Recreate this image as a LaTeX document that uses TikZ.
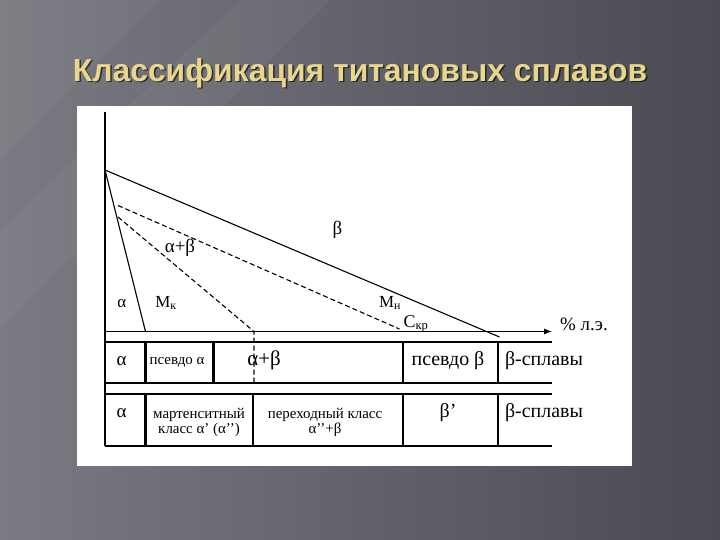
\documentclass[tikz,border=0pt]{standalone}
\usepackage{fontspec}
\setmainfont{Liberation Serif}
\newfontfamily\titlefont{Liberation Sans}
\usetikzlibrary{arrows.meta}
\definecolor{bgL}{RGB}{122,122,130}
\definecolor{bgR}{RGB}{74,74,82}
\definecolor{gold}{RGB}{232,214,140}
\tikzset{
  lbl/.style={inner sep=0pt, font=\fontsize{#1}{#1}\selectfont},
  lbl/.default=18,
  thinline/.style={line width=1.1bp, black},
  dashline/.style={line width=1.1bp, black, dash pattern=on 5bp off 3bp},
  divider/.style={line width=2.6bp, black},
  rowline/.style={line width=1.4bp, black},
  twoline/.style={inner sep=0pt, align=center, font=\fontsize{15}{16}\selectfont}
}
\begin{document}
\begin{tikzpicture}[x=1bp,y=-1bp]
\useasboundingbox (0,0) rectangle (720,540);
% background
\shade[left color=bgL, right color=bgR] (0,0) rectangle (720,540);
\fill[white, opacity=0.035] (0,230) -- (0,330) -- (330,0) -- (240,0) -- cycle;
\fill[white, opacity=0.03] (0,0) -- (0,160) -- (160,0) -- cycle;
% title
\node[text=black, opacity=0.6, font=\titlefont\bfseries\fontsize{32}{32}\selectfont] (titleshadow) at (361.5,74.5) {Классификация титановых сплавов};
\node[text=gold, font=\titlefont\bfseries\fontsize{32}{32}\selectfont] (title) at (360,73) {Классификация титановых сплавов};
% white panel
\fill[white] (76.5,106) rectangle (632,466);
% coordinates
\coordinate (top) at (105,112);
\coordinate (bot) at (105,446);
\coordinate (axL) at (105,331.5);
\coordinate (axR) at (552,331.5);
\coordinate (tp) at (105,170);
\coordinate (steepEnd) at (145.5,331.5);
\coordinate (solidEnd) at (499.5,337);
\coordinate (d1s) at (118,205.5);
\coordinate (d1e) at (399.5,329);
\coordinate (d2s) at (118,217);
\coordinate (d2e) at (254,331.5);
\coordinate (d2b) at (254,383);
% axes
\draw[thinline] (top) -- (bot);
\draw[thinline, -{Latex[length=8bp,width=6bp]}] (axL) -- (axR);
% lines of the diagram
\draw[thinline] (tp) -- (steepEnd);
\draw[thinline] (tp) -- (solidEnd);
\draw[dashline] (d1s) -- (d1e);
\draw[dashline] (d2s) -- (d2e) -- (d2b);
% labels of the diagram
\node[lbl=19] (lbeta) at (337.5,230) {β};
\node[lbl=19] (lab) at (180,248) {α+β};
\node[lbl=17] (lalpha) at (121.7,304) {α};
\node[lbl=17] (lMk) at (166,303) {M\textsubscript{к}};
\node[lbl=17] (lMn) at (390,303) {M\textsubscript{н}};
\node[lbl=18] (lCkr) at (416,324) {C\textsubscript{кр}};
\node[lbl=19] (lpct) at (584,324) {\% л.э.};
% table rows
\coordinate (r1tl) at (105,342);
\coordinate (r1tr) at (552,342);
\coordinate (r1bl) at (105,383);
\coordinate (r1br) at (552,383);
\coordinate (r2tl) at (105,394);
\coordinate (r2tr) at (552,394);
\coordinate (r2bl) at (105,446);
\coordinate (r2br) at (552,446);
\draw[rowline] (r1tl) -- (r1tr);
\draw[rowline] (r1bl) -- (r1br);
\draw[rowline] (r2tl) -- (r2tr);
\draw[rowline] (r2bl) -- (r2br);
% row 1 dividers
\foreach \x/\n in {145.5/a,213.5/b,403/c,498/d}{
  \coordinate (u\n t) at (\x,342);
  \coordinate (u\n b) at (\x,383);
  \draw[divider] (u\n t) -- (u\n b);
}
% row 2 dividers
\foreach \x/\n in {145.5/a,253/b,403/c,498/d}{
  \coordinate (v\n t) at (\x,394);
  \coordinate (v\n b) at (\x,446);
  \draw[divider] (v\n t) -- (v\n b);
}
% row 1 texts
\node[lbl=19] (r1a) at (121.7,361) {α};
\node[lbl=15] (r1pa) at (177,362) {псевдо α};
\node[lbl=21] (r1ab) at (264,360.5) {α+β};
\node[lbl=20] (r1pb) at (448,360.5) {псевдо β};
\node[lbl=20] (r1b) at (544,360.5) {β-сплавы};
% row 2 texts
\node[lbl=19] (r2a) at (121.7,413) {α};
\node[twoline] (r2m) at (199,422.5) {мартенситный\\класс α’ (α’’)};
\node[twoline] (r2p) at (325,422.5) {переходный класс\\α’’+β};
\node[lbl=20] (r2bp) at (448,413) {β’};
\node[lbl=20] (r2b) at (544,413) {β-сплавы};
\end{tikzpicture}
\end{document}
